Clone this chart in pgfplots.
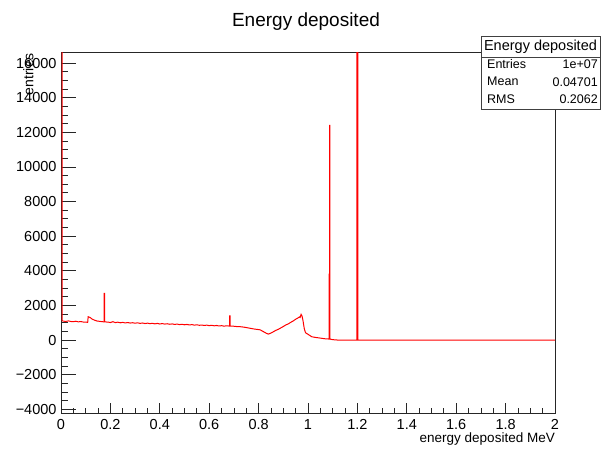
\documentclass[border=0pt]{standalone}
\usepackage{fontspec}
\setmainfont{Liberation Sans}
\usepackage{pgfplots}
\pgfplotsset{compat=1.18}
\definecolor{rootred}{RGB}{255,0,0}
\begin{document}
\begin{tikzpicture}[x=1pt,y=1pt]
\useasboundingbox (0,0) rectangle (605,448);
\begin{axis}[
  at={(61pt,34.5pt)}, anchor=south west,
  scale only axis, width=494pt, height=361.5pt,
  xmin=0, xmax=2, ymin=-4246, ymax=16640,
  scaled y ticks=false, scaled x ticks=false,
  xtick={0,0.2,0.4,0.6,0.8,1,1.2,1.4,1.6,1.8,2},
  xticklabels={0,0.2,0.4,0.6,0.8,1,1.2,1.4,1.6,1.8,2},
  ytick={-4000,-2000,0,2000,4000,6000,8000,10000,12000,14000,16000},
  yticklabels={−4000,−2000,0,2000,4000,6000,8000,10000,12000,14000,16000},
  minor x tick num=3, minor y tick num=3,
  tick align=inside, tick pos=left,
  major tick length=14.8pt, minor tick length=7.4pt,
  xtick style={/pgfplots/major tick length=10.8pt,/pgfplots/minor tick length=5.4pt},
  /pgf/number format/assume math mode=true,
  tick label style={font=\fontsize{14.5}{16}\selectfont},
  xticklabel style={inner sep=0pt, yshift=-6pt},
  yticklabel style={inner sep=0pt, xshift=-4.3pt},
  axis line style={black!85, line width=0.9pt},
  every tick/.style={black!85, line width=0.8pt},
]
\addplot[rootred, line width=1pt] coordinates {
(0.0042,30000) (0.0042,1110)
(0.01,1090) (0.02,1075) (0.03,1105) (0.04,1070) (0.05,1060) (0.06,1085)
(0.07,1050) (0.08,1065) (0.09,1040) (0.10,1035) (0.108,1020)
(0.110,1345) (0.118,1300) (0.125,1220) (0.135,1150) (0.145,1100)
(0.155,1080) (0.165,1060) (0.1745,1050)
(0.1745,2700) (0.1765,2700) (0.1765,1045)
(0.185,1040) (0.19,1035) (0.20,1010) (0.21,1060) (0.22,1005) (0.23,1030)
(0.24,995) (0.25,1020) (0.26,985) (0.27,1010) (0.28,980) (0.29,1000)
(0.30,970) (0.31,995) (0.32,960) (0.33,985) (0.34,950) (0.35,975)
(0.36,945) (0.37,965) (0.38,935) (0.39,960) (0.40,925) (0.41,950)
(0.42,920) (0.43,940) (0.44,910) (0.45,930) (0.46,900) (0.47,920)
(0.48,890) (0.49,910) (0.50,880) (0.51,900) (0.52,870) (0.53,890)
(0.54,860) (0.55,880) (0.56,850) (0.57,865) (0.58,840) (0.59,860)
(0.60,830) (0.61,850) (0.62,820) (0.63,840) (0.64,810) (0.65,830)
(0.66,800) (0.67,820) (0.683,805)
(0.683,1400) (0.685,1400) (0.685,800)
(0.70,795) (0.71,780) (0.725,770) (0.74,745) (0.75,720) (0.765,680)
(0.78,640) (0.795,610) (0.806,590) (0.82,480) (0.83,400) (0.839,340)
(0.85,400) (0.86,480) (0.87,560) (0.88,620) (0.89,700) (0.90,780)
(0.91,870) (0.92,930) (0.93,1020) (0.94,1100) (0.95,1200) (0.96,1280)
(0.965,1330) (0.968,1300) (0.972,1480) (0.976,1380) (0.98,1100)
(0.985,650) (0.99,420) (1.0,330) (1.015,190) (1.03,150) (1.05,110)
(1.07,70) (1.086,55)
(1.086,3800) (1.0875,3800) (1.0875,12400) (1.0885,12400) (1.0885,60)
(1.093,40) (1.10,20) (1.118,0)
(1.198,0) (1.198,30000) (1.2015,30000) (1.2015,0)
(2,0)
};
\end{axis}
% title and axis labels
\node[font=\fontsize{19}{22}\selectfont, inner sep=0pt, anchor=base] at (306,421.3) {Energy deposited};
\node[font=\fontsize{13.5}{16}\selectfont, inner sep=0pt, anchor=base east] at (555,5.5) {energy deposited MeV};
\node[font=\fontsize{14}{16}\selectfont, inner sep=0pt, anchor=base east, rotate=90] at (33.3,395) {entries};
% stats box
\fill[black!60] (482.2,337.8) rectangle (601.2,410.8);
\filldraw[fill=white, draw=black!75, line width=0.8pt] (481,339) rectangle (600,412);
\draw[black!75, line width=0.8pt] (481,390.3) -- (600,390.3);
\node[font=\fontsize{14.5}{16}\selectfont, inner sep=0pt] at (540.5,401) {Energy deposited};
\begin{scope}[every node/.style={font=\fontsize{12.5}{14}\selectfont, inner sep=0pt}]
\node[anchor=west] at (487,383.7) {Entries};
\node[anchor=east] at (598,383.7) {1e+07};
\node[anchor=west] at (487,366.3) {Mean};
\node[anchor=east] at (598,366.3) {0.04701};
\node[anchor=west] at (487,348.7) {RMS};
\node[anchor=east] at (598,348.7) {0.2062};
\end{scope}
\end{tikzpicture}
\end{document}
